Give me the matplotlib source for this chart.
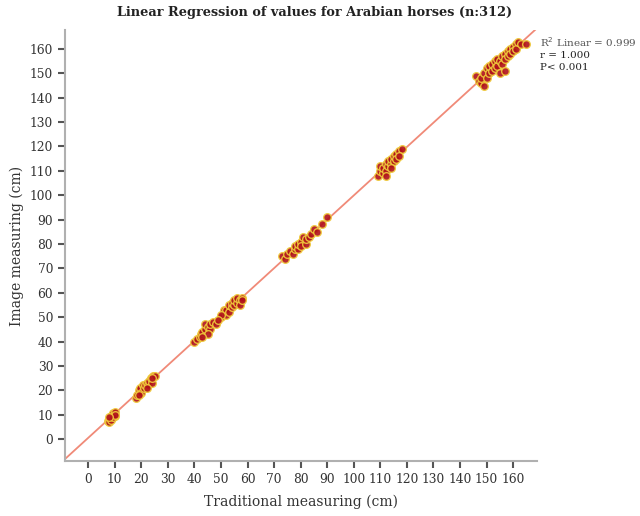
import numpy as np
import matplotlib.pyplot as plt

trad = [7.5, 8, 8.5, 9, 9.5, 10, 8, 9, 10, 8.5, 9.5, 10, 7.8,
        18, 18.5, 19, 19.5, 20, 20.5, 21, 21.5, 22, 22.5, 23, 23.5, 24, 24.5, 25, 24, 22, 19,
        40, 41, 42, 42.5, 43, 44, 44, 45, 46, 46, 47, 48, 50, 51, 52, 52, 53, 53, 54, 54,
        55, 55, 56, 56, 57, 57, 58, 58, 45, 43, 50, 49,
        73, 74, 75, 76, 77, 78, 78, 79, 79, 80, 80, 81, 82, 82, 83, 84, 85, 86, 88, 90,
        109, 110, 110, 111, 111, 112, 112, 113, 113, 114, 114, 115, 115, 116, 116, 117, 118, 117, 112, 114,
        146, 147, 148, 148, 149, 149, 150, 150, 151, 151, 152, 152, 153, 153, 154, 154, 155, 155,
        156, 156, 157, 157, 158, 158, 159, 159, 160, 160, 161, 161, 162, 163, 165, 157]
image = [7.5, 8, 9, 10, 10.5, 11, 7, 8.5, 9.5, 8, 9, 10, 9,
         17, 18, 20, 21, 19, 22, 21, 22, 23, 22, 24, 25, 23, 26, 26, 25, 21, 18,
         40, 41, 42, 43, 44, 45, 47, 46, 45, 47, 48, 47, 50, 53, 51, 53, 52, 55, 54, 56,
         55, 57, 56, 58, 57, 55, 58, 57, 43, 42, 51, 49,
         75, 74, 76, 77, 76, 78, 79, 78, 80, 81, 79, 83, 80, 82, 83, 84, 86, 85, 88, 91,
         108, 110, 112, 109, 111, 113, 110, 112, 114, 113, 115, 114, 116, 117, 115, 118, 119, 116, 108, 111,
         149, 147, 146, 148, 145, 150, 148, 152, 150, 153, 151, 154, 152, 155, 153, 156, 155, 150,
         157, 154, 158, 156, 159, 157, 160, 158, 161, 159, 162, 160, 163, 162, 162, 151]

ticks = list(range(0, 161, 10))
lo, hi = -8.7, 169

plt.rcParams['font.family'] = ['DejaVu Serif']
fig = plt.figure(figsize=(6.4, 5.16), dpi=100)
ax = fig.add_axes([0.1016, 0.1066, 0.7375, 0.8354])

# fit line
slope, icpt = np.polyfit(trad, image, 1)
xl = np.array([lo, hi])
ax.plot(xl, slope * xl + icpt, color='#f08a78', lw=1.3, zorder=1)

ax.plot(trad, image, 'o', ms=5.5, mfc='#b0101a', mec='#f0cc3c', mew=1.0, alpha=0.9, zorder=2)

ax.set_xlim(lo, hi)
ax.set_ylim(-9, 167.8)
ax.set_xticks(ticks)
ax.set_yticks(ticks)
for s in ['top', 'right']:
    ax.spines[s].set_visible(False)
for s in ['left', 'bottom']:
    ax.spines[s].set_color('#b0b0b0')
    ax.spines[s].set_linewidth(1.5)
ax.tick_params(direction='out', length=5, width=1.5, color='#555555', labelsize=8.8, labelcolor='#333333')

ax.set_xlabel('Traditional measuring (cm)', fontsize=10, color='#333333', labelpad=6)
ax.set_ylabel('Image measuring (cm)', fontsize=10, color='#333333', labelpad=4)
fig.text(0.492, 0.975, 'Linear Regression of values for Arabian horses (n:312)',
         ha='center', va='center', fontsize=9.3, fontweight='bold', color='#222222')

fig.text(0.843, 0.918, 'R$^2$ Linear = 0.999', fontsize=7.5, color='#555555', va='center')
fig.text(0.843, 0.893, 'r = 1.000', fontsize=7.5, color='#222222', va='center')
fig.text(0.843, 0.870, 'P< 0.001', fontsize=7.5, color='#222222', va='center')

fig.savefig('out.png', dpi=100)
